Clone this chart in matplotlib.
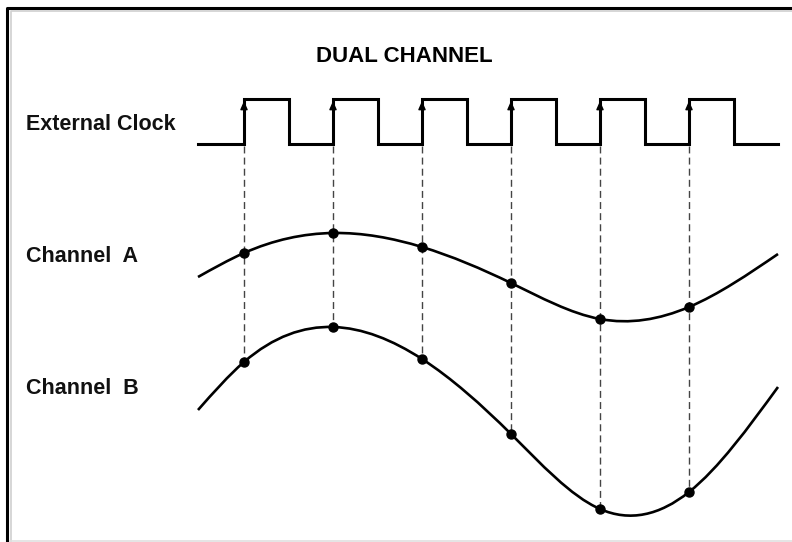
import numpy as np
import matplotlib.pyplot as plt
from matplotlib.path import Path
from matplotlib.patches import PathPatch

plt.rcParams['font.family'] = ['Liberation Sans', 'DejaVu Sans']

# clock edges (x) and levels (y), canvas units = pixels, y grows downwards
clock_start = 198
clock_end = 778
clock_low = 144
clock_high = 99
rise = [244, 333, 422, 511, 600, 689]
fall = [289, 378, 467, 556, 645, 734]

# sampled values at each rising edge
chan_a_y = [253, 233, 247, 283, 319, 307]
chan_b_y = [362, 327, 359, 434, 509, 492]

# ends of the analog traces
trace_x = [198, 778]
chan_a_ends = [277, 254]
chan_b_ends = [410, 387]

labels = ["External Clock", "Channel  A", "Channel  B"]
label_y = [124, 257, 389]


def smooth_path(xs, ys):
    """natural cubic spline through the points, drawn as bezier segments"""
    xs = np.asarray(xs, float)
    ys = np.asarray(ys, float)
    n = len(xs)
    h = np.diff(xs)
    A = np.zeros((n, n))
    b = np.zeros(n)
    A[0, 0] = A[-1, -1] = 1
    for i in range(1, n - 1):
        A[i, i - 1] = h[i - 1]
        A[i, i] = 2 * (h[i - 1] + h[i])
        A[i, i + 1] = h[i]
        b[i] = 6 * ((ys[i + 1] - ys[i]) / h[i] - (ys[i] - ys[i - 1]) / h[i - 1])
    M = np.linalg.solve(A, b)
    verts = [(xs[0], ys[0])]
    codes = [Path.MOVETO]
    for i in range(n - 1):
        d = h[i]
        sl = (ys[i + 1] - ys[i]) / d
        m0 = sl - d * (2 * M[i] + M[i + 1]) / 6
        m1 = sl + d * (M[i] + 2 * M[i + 1]) / 6
        verts += [(xs[i] + d / 3, ys[i] + m0 * d / 3),
                  (xs[i + 1] - d / 3, ys[i + 1] - m1 * d / 3),
                  (xs[i + 1], ys[i + 1])]
        codes += [Path.CURVE4] * 3
    return Path(verts, codes)


fig = plt.figure(figsize=(7.92, 5.42), dpi=100)
ax = fig.add_axes([0, 0, 1, 1])
ax.set_xlim(0, 792)
ax.set_ylim(542, 0)
ax.axis('off')

# frame
ax.plot([7, 7, 792], [542, 8, 8], color='black', lw=2.2, solid_capstyle='butt', clip_on=False)
ax.plot([10.5, 10.5, 792], [542, 11, 11], color='#d0d0d0', lw=1.2, clip_on=False)
ax.plot([10, 792], [540.5, 540.5], color='#e0e0e0', lw=1.2, clip_on=False)

# clock square wave
cx = [clock_start]
cy = [clock_low]
for r, f in zip(rise, fall):
    cx += [r, r, f, f]
    cy += [clock_low, clock_high, clock_high, clock_low]
cx.append(clock_end)
cy.append(clock_low)
ax.plot(cx, cy, color='black', lw=2.2, solid_joinstyle='miter')

for r in rise:
    ax.annotate('', xy=(r, clock_high + 2), xytext=(r, clock_high + 14),
                arrowprops=dict(arrowstyle='-|>,head_length=0.5,head_width=0.22',
                                color='black', lw=1.0, shrinkA=0, shrinkB=0))

# sampling lines
ax.vlines(rise, clock_low + 2, chan_b_y, colors='#444444', linestyles=(0, (5, 3)), lw=1.0)

# analog traces
ax_x = [trace_x[0]] + rise + [trace_x[1]]
a_y = [chan_a_ends[0]] + chan_a_y + [chan_a_ends[1]]
b_y = [chan_b_ends[0]] + chan_b_y + [chan_b_ends[1]]
ax.add_patch(PathPatch(smooth_path(ax_x, a_y), fill=False, lw=1.9, color='black'))
ax.add_patch(PathPatch(smooth_path(ax_x, b_y), fill=False, lw=1.9, color='black'))
ax.plot(rise, chan_a_y, 'o', color='black', ms=6.5)
ax.plot(rise, chan_b_y, 'o', color='black', ms=6.5)

# texts
ax.text(404, 57, "DUAL CHANNEL", ha='center', va='center', fontsize=16, fontweight='bold')
for lab, y in zip(labels, label_y):
    ax.text(26, y, lab, ha='left', va='center', fontsize=15.5, fontweight='bold', color='#111111')

fig.savefig('out.png', dpi=100)
